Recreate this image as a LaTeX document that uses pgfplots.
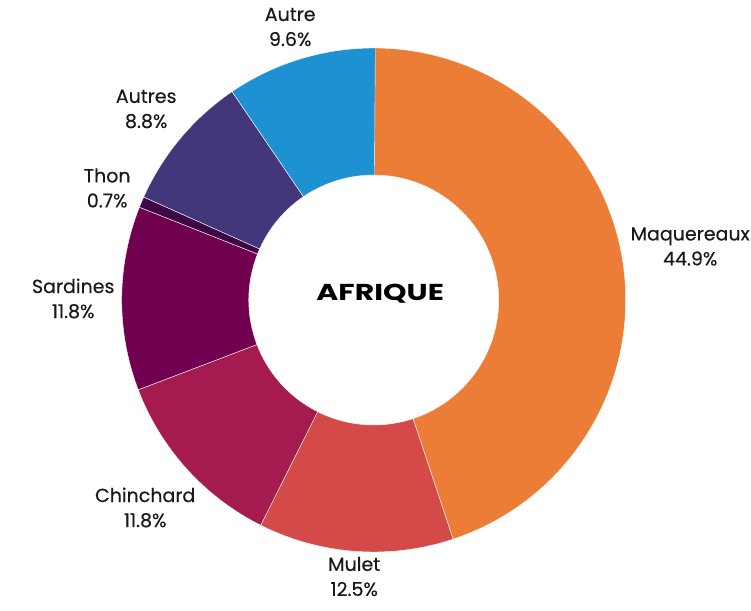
\documentclass[border=0pt]{standalone}
\usepackage{fontspec}
\setmainfont{Poppins}
\newfontfamily\labfont{Poppins}[FakeBold=0.35]
\newfontfamily\titfont{Poppins}[FakeStretch=1.3]
\usepackage{pgfplots}
\pgfplotsset{compat=1.18}
\definecolor{cMaq}{HTML}{EC7D36}
\definecolor{cMul}{HTML}{D34A48}
\definecolor{cChi}{HTML}{A51B4F}
\definecolor{cSar}{HTML}{710050}
\definecolor{cTho}{HTML}{3E0846}
\definecolor{cAus}{HTML}{44367A}
\definecolor{cAut}{HTML}{1E91D3}
\begin{document}
\begin{tikzpicture}
\begin{axis}[x=1pt,y=1pt,xmin=-373.7,xmax=377.3,ymin=-310,ymax=300,
  hide axis, clip=false]
\path (-373.7,-310) rectangle (377.3,300);
\pgfmathsetmacro{\s}{90}
\foreach \v/\c in {44.9/cMaq,12.5/cMul,11.8/cChi,11.8/cSar,0.7/cTho,8.8/cAus,9.6/cAut}{
  \pgfmathsetmacro{\e}{\s-3.6*\v}
  \pgfmathsetmacro{\xa}{252*cos(\s)}\pgfmathsetmacro{\ya}{252*sin(\s)}
  \pgfmathsetmacro{\xb}{125*cos(\e)}\pgfmathsetmacro{\yb}{125*sin(\e)}
  \edef\temp{\noexpand\fill[\c, draw=white, line width=0.4pt] (\xa,\ya) arc[start angle=\s, end angle=\e, radius=252] -- (\xb,\yb) arc[start angle=\e, end angle=\s, radius=125] -- cycle;}
  \temp
  \global\let\s\e
}
\tikzset{lab/.style={overlay, align=center, font=\labfont\fontsize{19}{25}\selectfont, text=black!90}}
\node[lab] at (316.5,53.5) {Maquereaux\\44.9\%};
\node[lab] at (-19.5,-276.5) {Mulet\\12.5\%};
\node[lab] at (-228.5,-207.5) {Chinchard\\11.8\%};
\node[lab] at (-300.5,1.5) {Sardines\\11.8\%};
\node[lab] at (-266.5,112) {Thon\\0.7\%};
\node[lab] at (-227.5,191) {Autres\\8.8\%};
\node[lab] at (-83.5,273) {Autre\\9.6\%};
\node[overlay, font=\titfont\fontsize{23}{27}\selectfont\bfseries] at (6.5,6) {AFRIQUE};
\end{axis}
\end{tikzpicture}
\end{document}
